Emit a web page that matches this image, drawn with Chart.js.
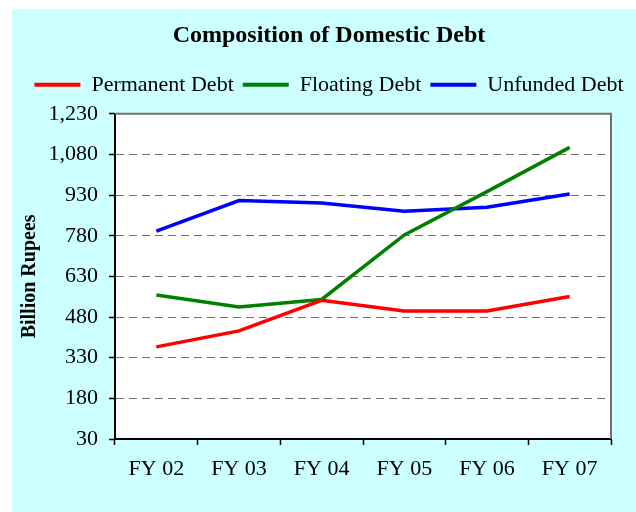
<!DOCTYPE html>
<html>
<head>
<meta charset="utf-8">
<script src="https://cdn.jsdelivr.net/npm/chart.js@4.4.1/dist/chart.umd.min.js"></script>
<style>
  html, body { margin: 0; padding: 0; background: #ffffff; }
  canvas { display: block; }
</style>
</head>
<body>
<canvas id="c" width="636" height="512"></canvas>
<script>
const categories = ['FY 02', 'FY 03', 'FY 04', 'FY 05', 'FY 06', 'FY 07'];
const permanentDebt = [370, 429, 542, 502, 502, 556];
const floatingDebt = [561, 517, 545, 783, 943, 1106];
const unfundedDebt = [797, 910, 901, 870, 885, 934];
const yTicks = [30, 180, 330, 480, 630, 780, 930, 1080, 1230];

const FONT = '"Liberation Serif", "Times New Roman", serif';

const bgPlugin = {
  id: 'bg',
  beforeDraw(chart) {
    const { ctx, chartArea: a } = chart;
    ctx.save();
    ctx.fillStyle = '#ffffff';
    ctx.fillRect(0, 0, chart.width, chart.height);
    ctx.fillStyle = '#CCFFFF';
    ctx.fillRect(12, 9, chart.width - 12, chart.height - 9);
    ctx.fillStyle = '#ffffff';
    ctx.fillRect(a.left, a.top, a.right - a.left, a.bottom - a.top);
    ctx.restore();
  },
  beforeDatasetsDraw(chart) {
    const { ctx, chartArea: a } = chart;
    ctx.save();
    ctx.strokeStyle = '#707070';
    ctx.lineWidth = 2;
    ctx.beginPath();
    ctx.moveTo(a.left, a.top);
    ctx.lineTo(a.right, a.top);
    ctx.lineTo(a.right, a.bottom);
    ctx.stroke();
    ctx.restore();
  }
};

new Chart(document.getElementById('c'), {
  type: 'line',
  data: {
    labels: categories,
    datasets: [
      { label: 'Permanent Debt', data: permanentDebt, borderColor: '#FF0000', backgroundColor: '#FF0000' },
      { label: 'Floating Debt', data: floatingDebt, borderColor: '#008000', backgroundColor: '#008000' },
      { label: 'Unfunded Debt', data: unfundedDebt, borderColor: '#0000FF', backgroundColor: '#0000FF' }
    ]
  },
  options: {
    responsive: false,
    animation: false,
    devicePixelRatio: 1,
    layout: { padding: { left: 22, right: 0, top: 0, bottom: 0 } },
    elements: {
      line: { borderWidth: 3.5, tension: 0, fill: false },
      point: { radius: 0, hoverRadius: 0, borderWidth: 4 }
    },
    plugins: {
      title: {
        display: true,
        text: 'Composition of Domestic Debt',
        color: '#000',
        font: { family: FONT, size: 24, weight: 'bold' },
        padding: { top: 21, bottom: 15 }
      },
      legend: {
        display: true,
        position: 'top',
        labels: {
          color: '#000',
          font: { family: FONT, size: 22 },
          usePointStyle: true,
          pointStyle: 'line',
          pointStyleWidth: 46,
          padding: 9
        }
      },
      tooltip: { enabled: false }
    },
    scales: {
      x: {
        type: 'category',
        position: 'bottom',
        offset: true,
        grid: {
          display: true,
          offset: true,
          drawOnChartArea: false,
          drawTicks: true,
          tickLength: 6,
          tickColor: '#000',
          tickWidth: 1.5
        },
        border: { display: true, color: '#000', width: 2 },
        ticks: {
          color: '#000',
          font: { family: FONT, size: 22 },
          padding: 11,
          maxRotation: 0,
          autoSkip: false
        },
        afterFit(s) { s.height = 73; }
      },
      xTop: {
        type: 'category',
        position: 'top',
        display: true,
        grid: { display: false },
        ticks: { display: false },
        border: { display: false },
        afterFit(s) { s.height = 8; }
      },
      y: {
        type: 'linear',
        position: 'left',
        min: yTicks[0],
        max: yTicks[yTicks.length - 1],
        afterBuildTicks(s) { s.ticks = yTicks.map(v => ({ value: v })); },
        grid: {
          display: true,
          color: '#707070',
          lineWidth: 1,
          drawTicks: true,
          tickLength: 6,
          tickColor: '#000',
          tickWidth: 1.5
        },
        border: { display: true, color: '#000', width: 2, dash: [8, 5] },
        ticks: {
          color: '#000',
          font: { family: FONT, size: 22 },
          padding: 11,
          callback: v => v.toLocaleString('en-US')
        },
        title: {
          display: true,
          text: 'Billion Rupees',
          color: '#000',
          font: { family: FONT, size: 20, weight: 'bold' },
          padding: { top: -4, bottom: 0 }
        },
        afterFit(s) { s.width = 93; }
      },
      yRight: {
        type: 'linear',
        position: 'right',
        display: true,
        grid: { display: false },
        ticks: { display: false },
        border: { display: false },
        afterFit(s) { s.width = 25; }
      }
    }
  },
  plugins: [bgPlugin]
});
</script>
</body>
</html>
